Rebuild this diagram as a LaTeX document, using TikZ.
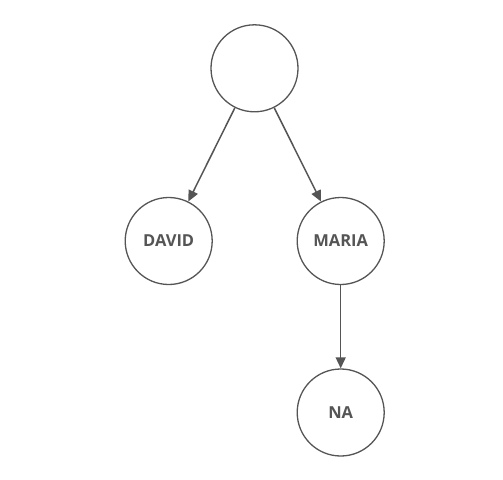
\documentclass[tikz,border=0pt]{standalone}
\usepackage{fontspec}
\setmainfont{Open Sans}
\usetikzlibrary{arrows.meta}
\definecolor{ink}{HTML}{555555}
\begin{document}
\begin{tikzpicture}[x=1pt,y=-1pt,
  person/.style={circle,draw=ink,line width=1.3pt,minimum size=87pt,inner sep=0pt,
    text=ink,font=\fontsize{16.5}{18}\selectfont\bfseries},
  link/.style={draw=ink,line width=1.5pt,-{Triangle[length=11pt,width=10pt]}}]
\useasboundingbox (0,0) rectangle (503,479);
\node[person] (root) at (254.5,68.3) {};
\node[person] (david) at (168.7,241) {DAVID};
\node[person] (maria) at (340.7,241) {MARIA};
\node[person] (na) at (340.7,412.5) {NA};
\draw[link] (root) -- (david);
\draw[link] (root) -- (maria);
\draw[link] (maria) -- (na);
\end{tikzpicture}
\end{document}
